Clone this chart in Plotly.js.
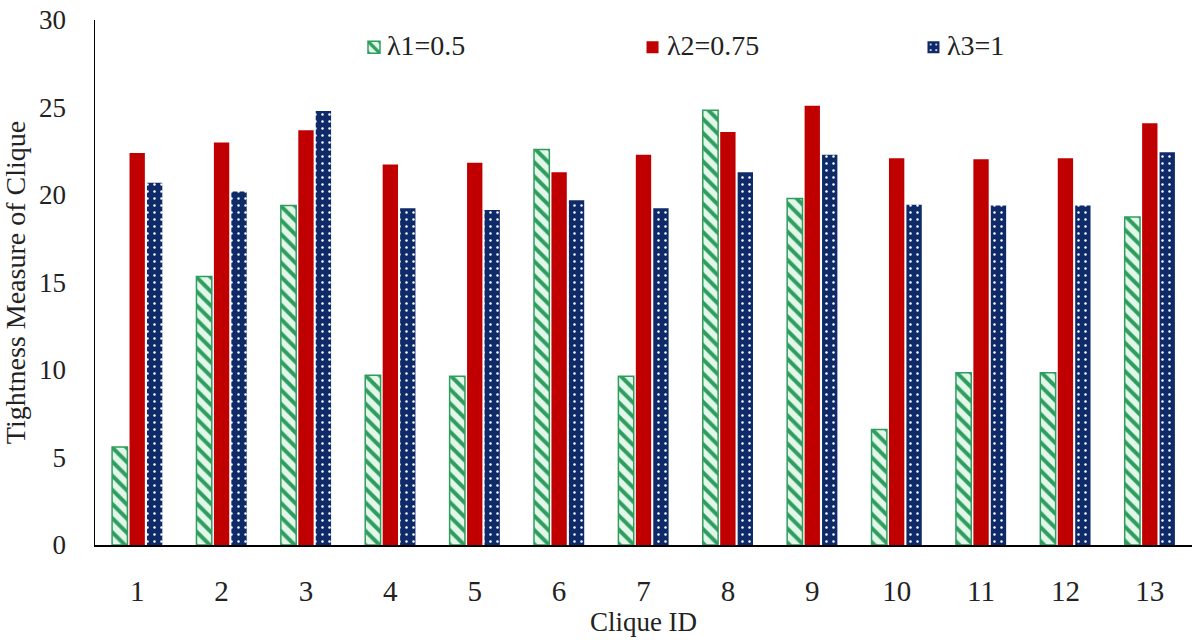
<!DOCTYPE html>
<html>
<head>
<meta charset="utf-8">
<script src="https://cdn.plot.ly/plotly-3.0.1.min.js"></script>
<style>
  html, body { margin: 0; padding: 0; background: #fff; }
  #plot { width: 1196px; height: 640px; }
</style>
</head>
<body>
<div id="plot"></div>
<script>
// values
const cliqueIds = ["1", "2", "3", "4", "5", "6", "7", "8", "9", "10", "11", "12", "13"];
const lambda1 = [5.6, 15.35, 19.4, 9.7, 9.65, 22.6, 9.65, 24.85, 19.8, 6.6, 9.85, 9.85, 18.75];
const lambda2 = [22.4, 23.0, 23.7, 21.75, 21.85, 21.3, 22.3, 23.6, 25.1, 22.1, 22.05, 22.1, 24.1];
const lambda3 = [20.7, 20.2, 24.8, 19.25, 19.15, 19.7, 19.25, 21.3, 22.3, 19.45, 19.4, 19.4, 22.45];
const seriesNames = ["λ1=0.5", "λ2=0.75", "λ3=1"];

const serif = "Liberation Serif";
const textColor = "#222";

const traces = [
  {
    type: "bar",
    x: cliqueIds,
    y: lambda1,
    name: "",
    legend: "legend",
    marker: {
      color: "#e3f6ea",
      line: { color: "#2e9e5e", width: 1.5 },
      pattern: { shape: "\\", fgcolor: "#2e9e5e", bgcolor: "#e3f6ea", size: 10, solidity: 0.4 },
    },
  },
  {
    type: "bar",
    x: cliqueIds,
    y: lambda2,
    name: "",
    legend: "legend2",
    marker: { color: "#c00000", line: { width: 0 } },
  },
  {
    type: "bar",
    x: cliqueIds,
    y: lambda3,
    name: "",
    legend: "legend3",
    marker: {
      color: "#0f2a68",
      line: { width: 0 },
      pattern: { shape: ".", fgcolor: "#ffffff", bgcolor: "#0f2a68", size: 7, solidity: 0.1 },
    },
  },
];

// one legend per series holds just the swatch; the label is an annotation
function legendAt(x) {
  return {
    x: x,
    y: 0.995,
    xanchor: "left",
    yanchor: "top",
    bgcolor: "rgba(0,0,0,0)",
    font: { family: serif, size: 28, color: textColor },
  };
}

// the Greek letter goes in its own span so the digits keep the serif face
function splitGreek(s) {
  return '<span style="font-family:Liberation Serif">' + s.charAt(0) + "</span>" + s.slice(1);
}

const labelX = [0.2644, 0.5196, 0.7748];
const legendLabels = seriesNames.map((name, i) => ({
  text: splitGreek(name),
  xref: "paper",
  yref: "paper",
  x: labelX[i],
  y: 0.951,
  xanchor: "left",
  yanchor: "middle",
  showarrow: false,
  font: { family: serif, size: 28, color: textColor },
}));

const layout = {
  width: 1196,
  height: 640,
  margin: { l: 95, r: 4, t: 20, b: 95 },
  paper_bgcolor: "#fff",
  plot_bgcolor: "#fff",
  barmode: "group",
  bargap: 0.38,
  bargroupgap: 0.12,
  font: { family: serif, color: textColor, size: 24 },
  showlegend: true,
  legend: legendAt(0.2361),
  legend2: legendAt(0.49),
  legend3: legendAt(0.7461),
  annotations: legendLabels,
  xaxis: {
    type: "category",
    showline: true,
    linecolor: "#000",
    linewidth: 1.5,
    showgrid: false,
    zeroline: false,
    ticks: "",
    ticklabelstandoff: 20,
    tickfont: { family: serif, size: 29, color: textColor },
    title: { text: "Clique ID", font: { family: serif, size: 27, color: textColor }, standoff: 4 },
  },
  yaxis: {
    range: [0, 30],
    dtick: 5,
    showline: true,
    linecolor: "#000",
    linewidth: 1.5,
    showgrid: false,
    zeroline: false,
    ticks: "",
    ticklabelstandoff: 22,
    tickfont: { family: serif, size: 27, color: textColor },
    title: { text: "Tightness Measure of Clique", font: { family: serif, size: 28, color: textColor }, standoff: 6 },
  },
};

Plotly.newPlot("plot", traces, layout, { staticPlot: true });
</script>
</body>
</html>
